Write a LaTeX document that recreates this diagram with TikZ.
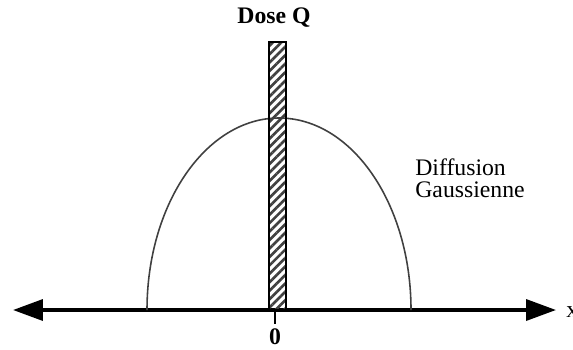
\documentclass[tikz,border=0pt]{standalone}
\usepackage{fontspec}
\setmainfont{Liberation Serif}
\usetikzlibrary{arrows.meta, positioning, patterns.meta}

\begin{document}
\begin{tikzpicture}[x=0.02cm, y=0.02cm,
  axis/.style={line width=2pt, {Triangle[length=0.6cm, width=0.42cm]}-{Triangle[length=0.6cm, width=0.42cm]}},
  label/.style={font=\fontsize{13.5}{12.5}\selectfont, inner sep=0pt},
  bar/.style={draw=black, line width=0.9pt, pattern={Lines[angle=45, distance=3.4pt, line width=1.5pt]}, pattern color=black!75},
  curve/.style={line width=0.9pt, black!75}
]
\useasboundingbox (0,0) rectangle (573,349);

% Axis
\coordinate (xl) at (13,39);
\coordinate (xr) at (556,39);
\coordinate (o) at (275,39);
\draw[axis] (xl) -- (xr);
\node[label, anchor=west] (xlab) at (566,37) {x};

% Gaussian spread
\draw[curve] (147,39) arc[start angle=180, end angle=0, x radius=132, y radius=192];
\node[label, align=left, anchor=north west] (gauss) at (415,191) {Diffusion\\Gaussienne};

% Dose
\draw[bar] (269,39) rectangle (286,307);
\node[label, font=\fontsize{13.5}{12.5}\selectfont\bfseries] (dose) at (274,331) {Dose Q};

% Origin
\coordinate (tk) at (275,25);
\draw[line width=1.3pt] (o) -- (tk);
\node[label, font=\fontsize{13.5}{12.5}\selectfont\bfseries, below=2.5pt of tk] (zero) {0};
\end{tikzpicture}
\end{document}
